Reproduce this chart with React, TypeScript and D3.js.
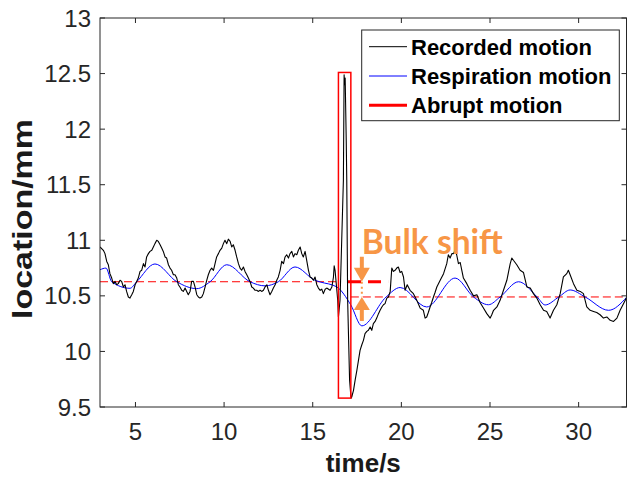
import React from "react";
import * as d3 from "d3";

// ---------- data (time in s, location in mm) ----------
const xTicks = [5, 10, 15, 20, 25, 30];
const yTicks = [9.5, 10, 10.5, 11, 11.5, 12, 12.5, 13];
const xDomain = [3, 32.7];
const yDomain = [9.5, 13];

const legendLabels = ["Recorded motion", "Respiration motion", "Abrupt motion"];

// recorded motion before the abrupt event
const recordedBefore: [number, number][] = [
  [3.0, 10.94], [3.19, 10.91], [3.28, 10.88], [3.38, 10.81], [3.47, 10.78], [3.56, 10.7],
  [3.66, 10.66], [3.75, 10.61], [3.85, 10.63], [3.94, 10.6], [4.03, 10.61], [4.13, 10.64],
  [4.22, 10.63], [4.32, 10.58], [4.41, 10.6], [4.5, 10.54], [4.6, 10.49], [4.69, 10.48],
  [4.79, 10.51], [4.88, 10.54], [4.98, 10.6], [5.07, 10.63], [5.16, 10.66], [5.26, 10.72],
  [5.35, 10.73], [5.45, 10.79], [5.54, 10.76], [5.63, 10.85], [5.73, 10.88], [5.82, 10.9],
  [5.92, 10.91], [6.01, 10.94], [6.1, 10.97], [6.2, 11.0], [6.29, 10.99], [6.39, 10.96],
  [6.48, 10.93], [6.57, 10.9], [6.67, 10.85], [6.76, 10.84], [6.86, 10.78], [6.95, 10.75],
  [7.04, 10.73], [7.14, 10.69], [7.23, 10.69], [7.33, 10.66], [7.42, 10.6], [7.51, 10.58],
  [7.61, 10.55], [7.7, 10.54], [7.8, 10.57], [7.89, 10.54], [7.98, 10.51], [8.08, 10.54],
  [8.17, 10.63], [8.27, 10.63], [8.36, 10.58], [8.46, 10.51], [8.55, 10.49], [8.64, 10.48],
  [8.74, 10.49], [8.83, 10.52], [8.93, 10.58], [9.02, 10.64], [9.11, 10.69], [9.21, 10.73],
  [9.3, 10.75], [9.4, 10.73], [9.49, 10.79], [9.58, 10.85], [9.68, 10.88], [9.77, 10.91],
  [9.87, 10.93], [9.96, 10.97], [10.05, 11.0], [10.15, 10.97], [10.24, 11.01], [10.34, 10.99],
  [10.43, 10.94], [10.52, 10.96], [10.62, 10.91], [10.71, 10.85], [10.81, 10.79], [10.9, 10.75],
  [10.99, 10.73], [11.09, 10.76], [11.18, 10.72], [11.28, 10.69], [11.37, 10.66], [11.46, 10.63],
  [11.56, 10.58], [11.65, 10.57], [11.75, 10.55], [11.84, 10.55], [11.94, 10.54], [12.03, 10.55],
  [12.12, 10.54], [12.22, 10.55], [12.31, 10.58], [12.41, 10.6], [12.5, 10.55], [12.59, 10.51],
  [12.69, 10.54], [12.78, 10.57], [12.88, 10.6], [12.97, 10.64], [13.06, 10.67], [13.16, 10.73],
  [13.25, 10.81], [13.35, 10.79], [13.44, 10.85], [13.53, 10.87], [13.63, 10.84], [13.72, 10.88],
  [13.82, 10.9], [13.91, 10.85], [14.0, 10.88], [14.1, 10.87], [14.19, 10.91], [14.29, 10.94],
  [14.38, 10.88], [14.47, 10.85], [14.57, 10.9], [14.66, 10.82], [14.76, 10.73], [14.85, 10.67],
  [14.95, 10.66], [15.04, 10.64], [15.13, 10.67], [15.23, 10.6], [15.32, 10.57], [15.42, 10.55],
  [15.51, 10.56], [15.6, 10.52], [15.7, 10.56], [15.79, 10.57], [15.98, 10.55], [16.08, 10.58],
  [16.17, 10.67], [16.21, 10.77], [16.26, 10.73], [16.36, 10.55], [16.41, 10.46], [16.45, 10.31],
];

// abrupt motion (spike)
const recordedSpike: [number, number][] = [
  [16.45, 10.31], [16.54, 10.46], [16.73, 11.54], [16.77, 12.49], [16.8, 12.4], [16.83, 12.46],
  [16.89, 11.9], [16.92, 11.54], [16.97, 10.46], [17.08, 9.74], [17.16, 9.58],
];

// recorded motion after the abrupt event
const recordedAfter: [number, number][] = [
  [17.16, 9.58], [17.2, 9.59], [17.3, 9.65], [17.39, 9.74], [17.49, 9.83], [17.58, 9.92],
  [17.67, 10.01], [17.77, 10.06], [17.86, 10.1], [17.95, 10.16], [18.05, 10.18], [18.14, 10.19],
  [18.24, 10.22], [18.33, 10.19], [18.42, 10.25], [18.52, 10.27], [18.61, 10.3], [18.71, 10.34],
  [18.8, 10.37], [18.9, 10.4], [18.99, 10.42], [19.08, 10.43], [19.18, 10.48], [19.27, 10.49],
  [19.37, 10.54], [19.46, 10.75], [19.55, 10.72], [19.65, 10.73], [19.74, 10.75], [19.83, 10.76],
  [19.93, 10.71], [20.02, 10.72], [20.12, 10.67], [20.21, 10.55], [20.33, 10.6], [20.49, 10.55],
  [20.68, 10.52], [20.87, 10.46], [21.06, 10.39], [21.24, 10.37], [21.34, 10.3], [21.43, 10.31],
  [21.52, 10.35], [21.62, 10.4], [21.71, 10.44], [21.81, 10.49], [21.9, 10.53], [22.0, 10.58],
  [22.19, 10.64], [22.38, 10.7], [22.56, 10.79], [22.65, 10.87], [22.75, 10.84], [22.85, 10.88],
  [22.94, 10.88], [23.03, 10.91], [23.12, 10.87], [23.22, 10.79], [23.32, 10.8], [23.41, 10.73],
  [23.5, 10.66], [23.69, 10.61], [23.88, 10.55], [24.07, 10.5], [24.26, 10.51], [24.44, 10.44],
  [24.63, 10.39], [24.82, 10.34], [25.01, 10.3], [25.1, 10.33], [25.2, 10.37], [25.39, 10.4],
  [25.57, 10.46], [25.76, 10.55], [25.95, 10.64], [26.14, 10.79], [26.23, 10.84], [26.32, 10.82],
  [26.51, 10.78], [26.7, 10.73], [26.89, 10.71], [27.08, 10.58], [27.27, 10.57], [27.45, 10.52],
  [27.64, 10.48], [27.83, 10.42], [28.02, 10.37], [28.2, 10.36], [28.39, 10.3], [28.58, 10.37],
  [28.77, 10.42], [28.96, 10.52], [29.14, 10.67], [29.33, 10.7], [29.42, 10.73], [29.52, 10.69],
  [29.71, 10.61], [29.9, 10.55], [30.09, 10.54], [30.27, 10.52], [30.46, 10.4], [30.65, 10.37],
  [30.84, 10.36], [31.02, 10.35], [31.21, 10.33], [31.4, 10.3], [31.59, 10.31], [31.78, 10.28],
  [31.97, 10.27], [32.16, 10.3], [32.34, 10.37], [32.53, 10.43], [32.72, 10.49],
];

// respiration motion (read at extrema and crossings)
const respiration: [number, number][] = [
  [3.0, 10.735], [3.34, 10.75], [3.66, 10.627], [4.69, 10.568], [5.07, 10.627], [6.1, 10.787],
  [7.33, 10.627], [8.46, 10.565], [9.21, 10.627], [10.15, 10.78], [11.46, 10.627], [12.31, 10.59],
  [13.06, 10.627], [14.0, 10.76], [15.13, 10.64], [15.42, 10.625], [16.36, 10.58], [17.15, 10.418],
  [17.77, 10.23], [19.14, 10.49], [19.93, 10.575], [21.43, 10.4], [23.03, 10.66], [24.07, 10.49],
  [24.91, 10.42], [25.57, 10.49], [26.61, 10.627], [27.66, 10.49], [28.11, 10.418], [28.88, 10.49],
  [29.52, 10.553], [30.37, 10.49], [31.69, 10.37], [32.72, 10.49],
];

// abrupt-motion window and baseline levels
const abruptWindow = { t0: 16.45, t1: 17.15, vMin: 9.58, vMax: 12.51 };
const levelBefore = 10.627;
const levelAfter = 10.49;
const bulkShiftTime = 17.77;
const bulkMarkerRange = [16.99, 19.25];

const W = 627;
const H = 479;
const M = { left: 100, right: 626.5, top: 18, bottom: 407 };
const AXIS = "#262626";
const ORANGE = "#F79646";

export default function App() {
  const x = d3.scaleLinear().domain(xDomain).range([M.left, M.right]);
  const y = d3.scaleLinear().domain(yDomain).range([M.bottom, M.top]);
  const line = d3
    .line<[number, number]>()
    .x((d) => x(d[0]))
    .y((d) => y(d[1]));
  const smooth = d3
    .line<[number, number]>()
    .x((d) => x(d[0]))
    .y((d) => y(d[1]))
    .curve(d3.curveMonotoneX);

  const recorded = [...recordedBefore, ...recordedSpike.slice(1), ...recordedAfter.slice(1)];
  const ax = x(bulkShiftTime);
  const yb = y(levelBefore);
  const ya = y(levelAfter);

  const tickFont = { fontFamily: "'Liberation Sans', Arial, sans-serif", fontSize: 24, fill: AXIS };
  const legendRows = [
    { label: legendLabels[0], color: "#000000", w: 1 },
    { label: legendLabels[1], color: "#0000ff", w: 1 },
    { label: legendLabels[2], color: "#ff0000", w: 3 },
  ];

  return (
    <div style={{ position: "absolute", left: 0, top: 0 }}>
      <svg width={W} height={H} style={{ display: "block", background: "#fff" }}>
        <defs>
          <clipPath id="plot">
            <rect x={M.left} y={M.top} width={M.right - M.left} height={M.bottom - M.top} />
          </clipPath>
        </defs>

        <g clipPath="url(#plot)">
          {/* baseline levels */}
          <line x1={x(xDomain[0])} x2={x(abruptWindow.t0)} y1={yb} y2={yb} stroke="#ff0000" strokeWidth={1} strokeDasharray="8,4" />
          <line x1={x(abruptWindow.t1)} x2={x(xDomain[1])} y1={ya} y2={ya} stroke="#ff0000" strokeWidth={1} strokeDasharray="8,4" />

          {/* respiration */}
          <path d={smooth(respiration) || ""} fill="none" stroke="#0000ff" strokeWidth={1} />
          {/* recorded */}
          <path d={line(recorded) || ""} fill="none" stroke="#000" strokeWidth={1.1} strokeLinejoin="round" />

          {/* abrupt motion window */}
          <rect
            x={x(abruptWindow.t0)}
            y={y(abruptWindow.vMax)}
            width={x(abruptWindow.t1) - x(abruptWindow.t0)}
            height={y(abruptWindow.vMin) - y(abruptWindow.vMax)}
            fill="none"
            stroke="#ff0000"
            strokeWidth={1.5}
          />

          {/* bulk-shift marker */}
          <line x1={x(bulkMarkerRange[0])} x2={x(bulkMarkerRange[1])} y1={yb} y2={yb} stroke="#ff0000" strokeWidth={3} strokeDasharray="13,7" />
          <line x1={ax} x2={ax} y1={yb} y2={ya} stroke={ORANGE} strokeWidth={2} strokeDasharray="2,3" />
          {/* down arrow */}
          <line x1={ax} x2={ax} y1={yb - 25} y2={yb - 13} stroke={ORANGE} strokeWidth={4} />
          <path d={`M${ax - 8},${yb - 14} L${ax + 8},${yb - 14} L${ax},${yb} Z`} fill={ORANGE} />
          {/* up arrow */}
          <line x1={ax} x2={ax} y1={ya + 12} y2={ya + 24} stroke={ORANGE} strokeWidth={4} />
          <path d={`M${ax - 8},${ya + 13} L${ax + 8},${ya + 13} L${ax},${ya} Z`} fill={ORANGE} />
        </g>

        <text x={ax} y={253.5} fontFamily="Lato, 'Open Sans', sans-serif" fontWeight="bold" fontSize={35} fill={ORANGE} textLength={141} lengthAdjust="spacingAndGlyphs">
          Bulk shift
        </text>

        {/* axes box */}
        <rect x={M.left} y={M.top} width={M.right - M.left} height={M.bottom - M.top} fill="none" stroke={AXIS} strokeWidth={1} />
        {xTicks.map((t) => (
          <g key={"xt" + t}>
            <line x1={x(t)} x2={x(t)} y1={M.bottom} y2={M.bottom - 5} stroke={AXIS} />
            <line x1={x(t)} x2={x(t)} y1={M.top} y2={M.top + 5} stroke={AXIS} />
            <text x={x(t)} y={440} textAnchor="middle" {...tickFont}>
              {t}
            </text>
          </g>
        ))}
        {yTicks.map((v) => (
          <g key={"yt" + v}>
            <line x1={M.left} x2={M.left + 5} y1={y(v)} y2={y(v)} stroke={AXIS} />
            <line x1={M.right} x2={M.right - 5} y1={y(v)} y2={y(v)} stroke={AXIS} />
            <text x={91} y={y(v) + 8.5} textAnchor="end" {...tickFont}>
              {v}
            </text>
          </g>
        ))}

        <text x={(M.left + M.right) / 2} y={472} textAnchor="middle" fontFamily="'Liberation Sans', Arial, sans-serif" fontWeight="bold" fontSize={26} fill="#1a1a1a">
          time/s
        </text>
        <text transform={`translate(32,219) rotate(-90)`} textAnchor="middle" fontFamily="'Liberation Sans', Arial, sans-serif" fontWeight="bold" fontSize={28} fill="#1a1a1a" textLength={200} lengthAdjust="spacingAndGlyphs">
          location/mm
        </text>

        {/* legend */}
        <rect x={361.7} y={30} width={257.6} height={90.7} fill="#fff" stroke={AXIS} strokeWidth={1} />
        {legendRows.map((r, i) => {
          const cy = 46.7 + i * 29.3;
          return (
            <g key={r.label}>
              <line x1={369} x2={407} y1={cy} y2={cy} stroke={r.color} strokeWidth={r.w} />
              <text x={411} y={cy + 7.8} fontFamily="'Liberation Sans', Arial, sans-serif" fontWeight="bold" fontSize={22} fill="#000">
                {r.label}
              </text>
            </g>
          );
        })}
      </svg>
    </div>
  );
}
